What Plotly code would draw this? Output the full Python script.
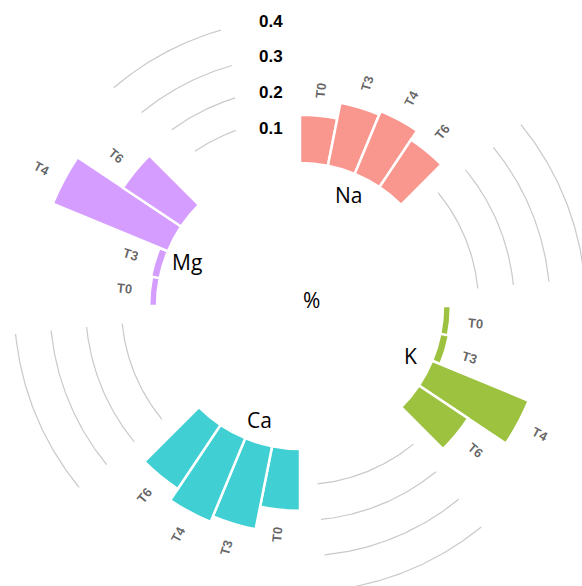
import numpy as np
import plotly.graph_objects as go

# ---------------- data ----------------
groups = ["Na", "K", "Ca", "Mg"]
times = ["T0", "T3", "T4", "T6"]
na_vals = [0.135, 0.180, 0.190, 0.160]
k_vals = [0.022, 0.025, 0.293, 0.166]
ca_vals = [0.173, 0.237, 0.254, 0.216]
mg_vals = [0.022, 0.025, 0.349, 0.196]
grid_levels = [0.1, 0.2, 0.3, 0.4]
grid_labels = ["0.1", "0.2", "0.3", "0.4"]
center_label = "%"

values = {"Na": na_vals, "K": k_vals, "Ca": ca_vals, "Mg": mg_vals}
colors = {"Na": "#F9978F", "K": "#9DC240", "Ca": "#40CFD3", "Mg": "#D59DFF"}

# ---------------- geometry ----------------
W, H = 582, 586
CX, CY = 300, 306          # centre of the circle (px from top-left)
R_PX = 280                 # outer radius of polar subplot
PX = 357                   # px per value unit
BASE_PX = 143              # inner radius where bars start
OFF = BASE_PX / PX
N_SLOTS = 32
PER_GROUP = 8              # 4 bars + 4 empty slots
STEP = 360 / N_SLOTS
FONT = "Liberation Sans, Arial, sans-serif"
FONT2 = "Open Sans, Liberation Sans, sans-serif"
GROUP_LABEL_SHIFT = {"Na": 1.3, "K": 2.0, "Ca": -3.0, "Mg": -1.0}  # degrees


def slot_angle(i):
    return (i + 0.5) * STEP


fig = go.Figure()

# bars
for g, name in enumerate(groups):
    thetas = [slot_angle(g * PER_GROUP + j) for j in range(len(times))]
    fig.add_trace(go.Barpolar(
        r=values[name], theta=thetas, base=0, width=STEP,
        marker=dict(color=colors[name], line=dict(color="white", width=2.5)),
        showlegend=False, hoverinfo="skip",
    ))

# grid arcs in the gaps (overlay cartesian axes, same scale as polar)
tl_override = {  # top-left gap: (start deg, end deg, radius px)
    0.1: (325.8, 339.9, 187),
    0.2: (324.0, 342.7, 218),
    0.3: (320.7, 344.2, 250),
    0.4: (319.5, 344.0, 287),
}
for g in range(len(groups)):
    for lev in grid_levels:
        if g == len(groups) - 1:
            a0, a1, rp = tl_override[lev]
            rho = rp / PX
        else:
            a0 = slot_angle(g * PER_GROUP + 4)
            a1 = slot_angle(g * PER_GROUP + 7)
            rho = OFF + lev
        t = np.radians(np.linspace(a0, a1, 80))
        fig.add_trace(go.Scatter(
            x=rho * np.sin(t), y=rho * np.cos(t), mode="lines",
            line=dict(color="#c9c9c9", width=1.2),
            showlegend=False, hoverinfo="skip", xaxis="x", yaxis="y",
        ))

annotations = []
# bar labels
for g, name in enumerate(groups):
    for j, tm in enumerate(times):
        th = slot_angle(g * PER_GROUP + j)
        rho = OFF + values[name][j] + 25 / PX
        ang = th - 90 if th < 180 else th - 270
        annotations.append(dict(
            x=rho * np.sin(np.radians(th)), y=rho * np.cos(np.radians(th)),
            xref="x", yref="y", text=f"<b>{tm}</b>", showarrow=False,
            textangle=ang, xanchor="center", yanchor="middle",
            font=dict(family=FONT, size=13, color="rgba(0,0,0,0.62)"),
        ))
    # group label
    gth = np.mean([slot_angle(g * PER_GROUP + j) for j in range(len(times))])
    gth += GROUP_LABEL_SHIFT[name]
    rho = 121 / PX
    annotations.append(dict(
        x=rho * np.sin(np.radians(gth)), y=rho * np.cos(np.radians(gth)),
        xref="x", yref="y", text=name, showarrow=False,
        xanchor="center", yanchor="middle",
        font=dict(family=FONT2, size=21, color="black"),
    ))

# grid value labels
for lev, lab in zip(grid_levels, grid_labels):
    annotations.append(dict(
        x=-43 / PX, y=OFF + lev - 1 / PX, xref="x", yref="y",
        text=f"<b>{lab}</b>", showarrow=False, xanchor="left", yanchor="middle",
        font=dict(family=FONT, size=17, color="black"),
    ))

annotations.append(dict(
    x=11 / PX, y=6 / PX, xref="x", yref="y", text=center_label, showarrow=False,
    xanchor="center", yanchor="middle",
    font=dict(family=FONT2, size=21, color="black"),
))

fig.update_layout(
    width=W, height=H,
    margin=dict(l=0, r=0, t=0, b=0),
    paper_bgcolor="white", plot_bgcolor="rgba(0,0,0,0)",
    showlegend=False,
    polar=dict(
        domain=dict(x=[(CX - R_PX) / W, (CX + R_PX) / W],
                    y=[(H - CY - R_PX) / H, (H - CY + R_PX) / H]),
        bgcolor="rgba(0,0,0,0)",
        hole=0,
        radialaxis=dict(range=[-OFF, (R_PX - BASE_PX) / PX], visible=False,
                        showgrid=False, showline=False, showticklabels=False),
        angularaxis=dict(rotation=90, direction="clockwise", visible=False,
                         showgrid=False, showline=False, showticklabels=False),
        bargap=0,
    ),
    xaxis=dict(domain=[0, 1], range=[-CX / PX, (W - CX) / PX], visible=False,
               showgrid=False, zeroline=False, fixedrange=True),
    yaxis=dict(domain=[0, 1], range=[-(H - CY) / PX, CY / PX], visible=False,
               showgrid=False, zeroline=False, fixedrange=True),
    annotations=annotations,
)

fig.write_html(
    "out.html",
    config={"displayModeBar": False},
    post_script="document.body.style.margin='0px';document.body.style.overflow='hidden';",
)
